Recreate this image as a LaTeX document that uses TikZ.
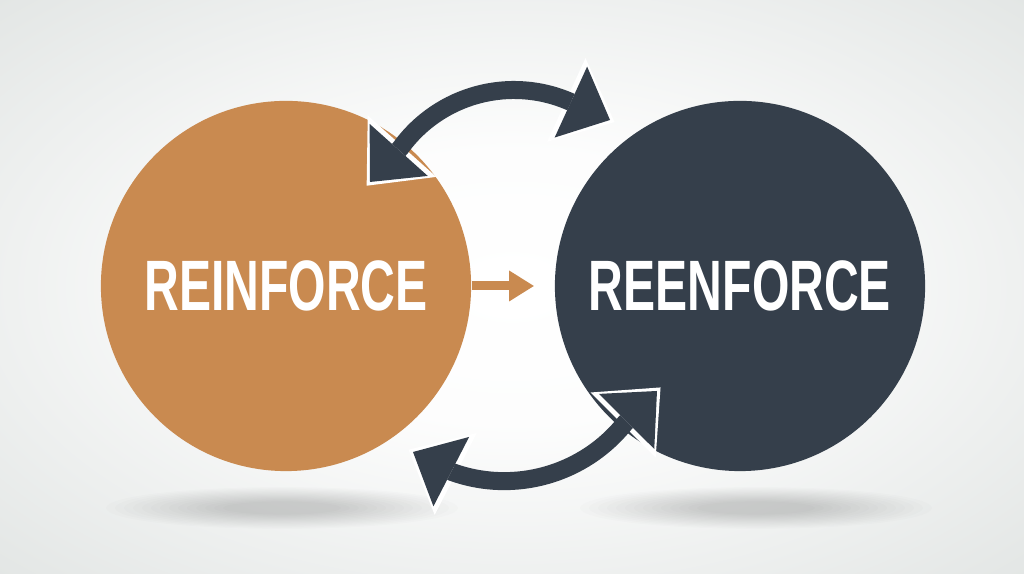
\documentclass[tikz,border=0pt]{standalone}
\usepackage{fontspec}
\setsansfont[FakeStretch=0.674]{Liberation Sans}
\usetikzlibrary{arrows.meta, positioning}

\definecolor{rustorange}{HTML}{C98A50}
\definecolor{slate}{HTML}{353F4B}
\definecolor{bggray}{HTML}{D3D8D6}

\pgfdeclareradialshading{softglow}{\pgfpoint{0bp}{0bp}}{color(0bp)=(white); color(12bp)=(white!95!bggray); color(50bp)=(bggray); color(80bp)=(bggray)}

\begin{document}
\begin{tikzpicture}[
    x=0.01cm, y=0.01cm,
    disc/.style={circle, minimum size=3.7cm, inner sep=0pt},
    word/.style={text=white, font=\sffamily\bfseries\fontsize{20.3pt}{24pt}\selectfont},
    halo/.style={draw=white, line width=0.14cm, shorten >=-0.05cm, shorten <=-0.05cm,
        {Triangle[width=0.92cm, length=0.53cm, line width=0pt]}-{Triangle[width=0.92cm, length=0.53cm, line width=0pt]}},
    swap/.style={preaction={halo}, line width=0.18cm, draw=slate,
        {Triangle[width=0.78cm, length=0.43cm, line width=0pt]}-{Triangle[width=0.78cm, length=0.43cm, line width=0pt]}},
    push/.style={line width=0.09cm, draw=rustorange, -{Triangle[width=0.29cm, length=0.25cm]}}
]
    \useasboundingbox (0,0) rectangle (1024,574);

    % Background glow
    \shade [shading=softglow] (0,0) rectangle (1024,574);

    % Soft shadows under the discs
    \foreach \k in {1,...,14} {
        \fill [black, opacity=0.011] (282,66) ellipse ({185-9*\k} and {22-1.1*\k});
        \fill [black, opacity=0.011] (756,66) ellipse ({185-9*\k} and {22-1.1*\k});
    }

    % Discs
    \node [disc, fill=rustorange, word] (reinf) at (286,288) {REINFORCE};
    \node [disc, fill=slate, word] (reenf) at (740,288) {REENFORCE};

    % Small arrow between the words
    \draw [push, shorten >=0.2cm] (reinf.east) -- (reenf.west);

    % Curved exchange arrows
    \coordinate (topTipR) at (610,454);
    \coordinate (topBaseR) at (570.9,471.9);
    \coordinate (topTipL) at (370,392);
    \coordinate (botTipR) at (657,183);
    \coordinate (botBaseR) at (625.1,151);
    \coordinate (botTipL) at (413,122);
    \draw [swap] (topTipR) -- (topBaseR) arc [start angle=66, end angle=144, radius=140] -- (topTipL);
    \draw [swap] (botTipR) -- (botBaseR) arc [start angle=-38.6, end angle=-109.8, radius=154.6] -- (botTipL);

\end{tikzpicture}
\end{document}
